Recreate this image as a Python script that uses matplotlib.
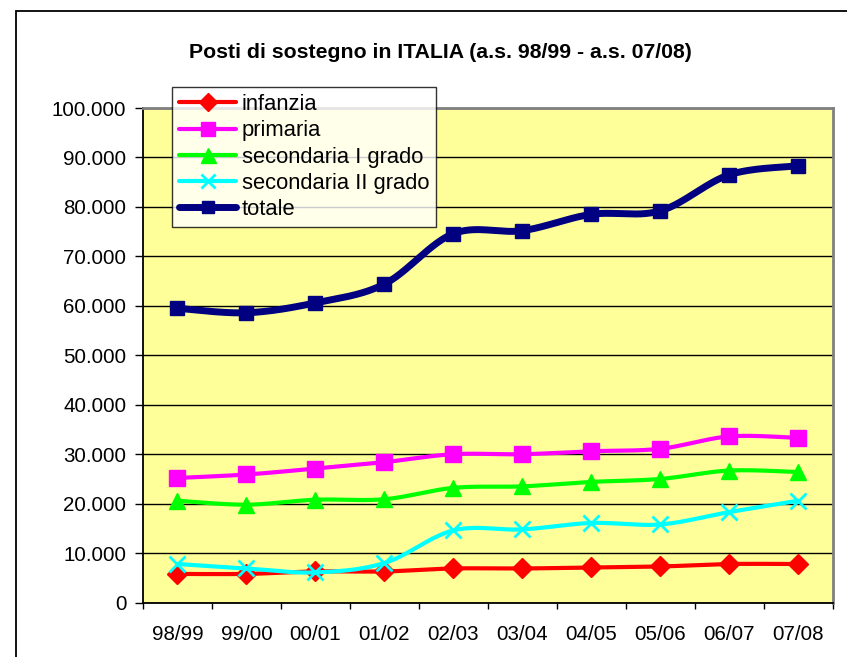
import numpy as np
import matplotlib
matplotlib.use("Agg")
import matplotlib.pyplot as plt
from matplotlib.ticker import FuncFormatter, FixedLocator
from matplotlib.patches import Rectangle

plt.rcParams['font.family'] = ['Liberation Sans', 'DejaVu Sans']

categories = ["98/99", "99/00", "00/01", "01/02", "02/03", "03/04", "04/05", "05/06", "06/07", "07/08"]
infanzia = [5800, 5800, 6300, 6300, 6900, 6900, 7100, 7300, 7800, 7800]
primaria = [25200, 25900, 27100, 28400, 30000, 30000, 30600, 31100, 33600, 33300]
secondaria_I = [20600, 19800, 20800, 20900, 23200, 23500, 24400, 25000, 26700, 26400]
secondaria_II = [7800, 6900, 6100, 8000, 14600, 14800, 16100, 15800, 18300, 20600]
totale = [59500, 58600, 60600, 64400, 74600, 75200, 78500, 79200, 86500, 88300]
y_ticks = list(range(0, 100001, 10000))

W, H = 847, 657
fig = plt.figure(figsize=(W / 100, H / 100), dpi=100)
fig.patch.set_facecolor('white')

# outer chart frame
fig.add_artist(Rectangle((16 / W, -0.1), 2.0, 1 - 11 / H + 0.1, transform=fig.transFigure,
                         fill=False, edgecolor='black', linewidth=1.3))

ax = fig.add_axes([143 / W, 1 - 602.6 / H, (832.7 - 143) / W, (602.6 - 108) / H])
ax.set_facecolor('#FFFF99')


def smooth(y, n=30):
    y = np.asarray(y, dtype=float)
    x = np.arange(len(y), dtype=float)
    P = np.column_stack([x, y])
    Pe = np.vstack([P[0], P, P[-1]])
    out = []
    for i in range(len(P) - 1):
        p0, p1, p2, p3 = Pe[i], Pe[i + 1], Pe[i + 2], Pe[i + 3]
        c1 = p1 + (p2 - p0) / 6
        c2 = p2 - (p3 - p1) / 6
        t = np.linspace(0, 1, n)[:, None]
        seg = (1 - t) ** 3 * p1 + 3 * (1 - t) ** 2 * t * c1 + 3 * (1 - t) * t ** 2 * c2 + t ** 3 * p2
        out.append(seg if i == 0 else seg[1:])
    out = np.vstack(out)
    return out[:, 0], out[:, 1]


series = [
    ("infanzia", infanzia, '#FF0000', 'D', 10, 3.0),
    ("primaria", primaria, '#FF00FF', 's', 11, 3.0),
    ("secondaria I grado", secondaria_I, '#00FF00', '^', 12, 3.0),
    ("secondaria II grado", secondaria_II, '#00FFFF', 'x', 11, 3.0),
    ("totale", totale, '#000080', 's', 10, 5.0),
]

handles = []
for zi, (name, vals, col, mk, ms, lw) in enumerate(series):
    xs, ys = smooth(vals)
    ax.plot(xs, ys, color=col, linewidth=lw, solid_capstyle='round', zorder=3 + zi)
    mew = 2.0 if mk == 'x' else 1.0
    ax.plot(np.arange(len(vals)), vals, linestyle='none', marker=mk, markersize=ms,
            color=col, markeredgecolor=col, markeredgewidth=mew, zorder=3 + zi)
    h, = ax.plot([], [], color=col, linewidth=lw, marker=mk, markersize=ms * 0.9,
                 markeredgecolor=col, markeredgewidth=mew, solid_capstyle='round')
    handles.append(h)

ax.set_xlim(-0.5, len(categories) - 0.5)
ax.set_ylim(0, 100000)
ax.yaxis.set_major_locator(FixedLocator(y_ticks))
ax.yaxis.set_major_formatter(FuncFormatter(lambda v, p: f"{int(v):,}".replace(",", ".")))
ax.grid(axis='y', color='black', linewidth=1.0)
ax.set_axisbelow(True)

ax.set_xticks(np.arange(len(categories)))
ax.set_xticklabels(categories)
ax.set_xticks(np.arange(len(categories) + 1) - 0.5, minor=True)
ax.tick_params(axis='x', which='major', length=0, pad=16, labelsize=14.8)
ax.tick_params(axis='x', which='minor', length=4.5, width=1, color='black', direction='out')
ax.tick_params(axis='y', which='major', length=5.5, width=1, color='black', direction='out',
               pad=6.5, labelsize=14.8)

for s in ['left', 'bottom']:
    ax.spines[s].set_color('black')
    ax.spines[s].set_linewidth(1.3)
for s in ['top', 'right']:
    ax.spines[s].set_color('#808080')
    ax.spines[s].set_linewidth(2.0)

fig.text(440 / W, 1 - 52 / H, "Posti di sostegno in ITALIA (a.s. 98/99 - a.s. 07/08)",
         ha='center', va='center', fontsize=15.3, fontweight='bold')

leg = fig.legend(handles, [s[0] for s in series], loc='upper left',
                 bbox_to_anchor=(172 / W, 1 - 87 / H), bbox_transform=fig.transFigure,
                 fontsize=15.8, frameon=True, fancybox=False, shadow=False,
                 borderpad=0.32, labelspacing=0.24, handlelength=2.6, handletextpad=0.25,
                 borderaxespad=0, markerscale=1.0)
leg.get_frame().set_edgecolor('black')
leg.get_frame().set_linewidth(1.0)
leg.get_frame().set_facecolor('white')
leg.set_zorder(20)

fig.savefig("out.png", dpi=100)
